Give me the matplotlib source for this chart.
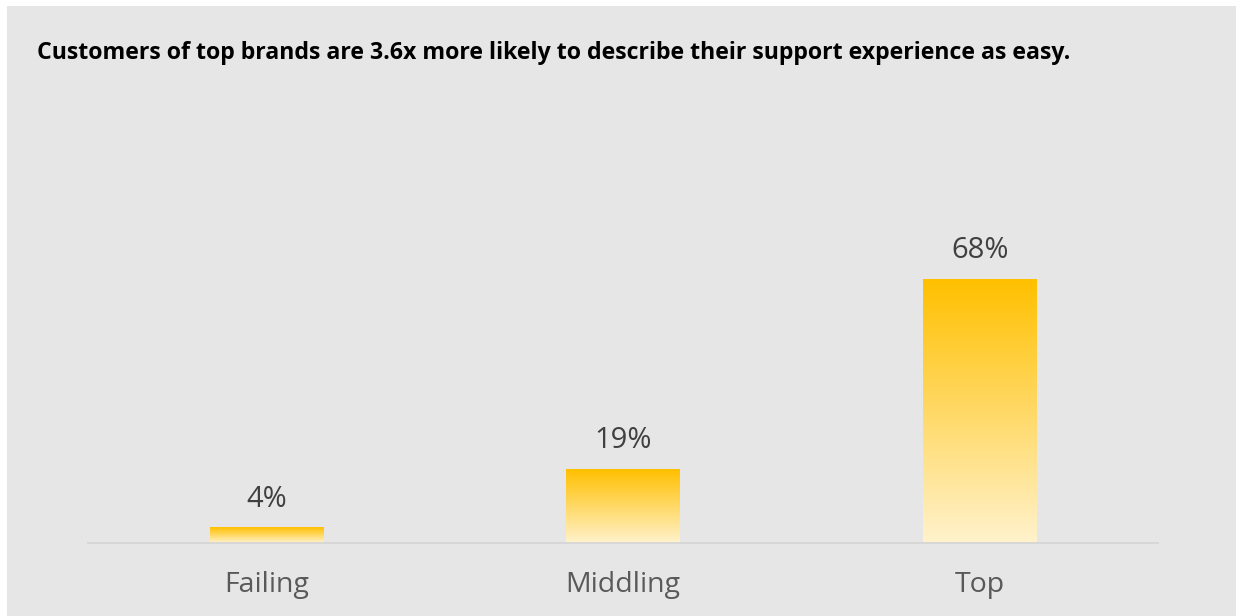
import matplotlib.pyplot as plt
import numpy as np
from matplotlib.patches import Rectangle
from matplotlib.colors import LinearSegmentedColormap

# Dados
categorias = ['Failing', 'Middling', 'Top']
valores = [4, 19, 68]
rotulos = ['4%', '19%', '68%']
titulo = 'Customers of top brands are 3.6x more likely to describe their support experience as easy.'

plt.rcParams['font.family'] = ['Open Sans', 'DejaVu Sans']

fig = plt.figure(figsize=(12.36, 6.16), dpi=100)
fig.patch.set_facecolor('white')

# fundo cinza (com margem branca em cima e à esquerda)
fig.add_artist(Rectangle((7 / 1236, 0), 1, 1 - 6 / 616, transform=fig.transFigure,
                         facecolor='#e6e6e6', edgecolor='none', zorder=-10))

ax = fig.add_axes([88 / 1236, 73 / 616, 1070 / 1236, 310.4 / 616])
ax.set_facecolor('none')

x = np.arange(len(categorias))
largura = 0.317

# barras com gradiente (laranja em cima, creme embaixo)
cmap = LinearSegmentedColormap.from_list('grad', ['#FFF2CC', '#FFC000'])
grad = np.linspace(0, 1, 256).reshape(-1, 1)
for xi, v, lab in zip(x, valores, rotulos):
    ax.imshow(grad, cmap=cmap, origin='lower', aspect='auto',
              extent=(xi - largura / 2, xi + largura / 2, 0, v), zorder=2)
    ax.annotate(lab, xy=(xi, v), xytext=(0, 20.5), textcoords='offset points',
                ha='center', va='center', fontsize=21, color='#404040')

ax.set_xlim(-0.5, len(categorias) - 0.5)
ax.set_ylim(0, 80)

# eixos
for s in ['top', 'right', 'left']:
    ax.spines[s].set_visible(False)
ax.spines['bottom'].set_color('#d6d6d6')
ax.spines['bottom'].set_linewidth(1.3)
ax.set_yticks([])
ax.set_xticks(x)
ax.set_xticklabels(categorias, fontsize=20.5, color='#595959')
ax.tick_params(axis='x', length=0, pad=20)

fig.text(37 / 1236, 1 - 53 / 616, titulo, ha='left', va='center',
         fontsize=16.7, fontweight='bold', color='black')

plt.savefig('out.png', dpi=100, facecolor='white')
